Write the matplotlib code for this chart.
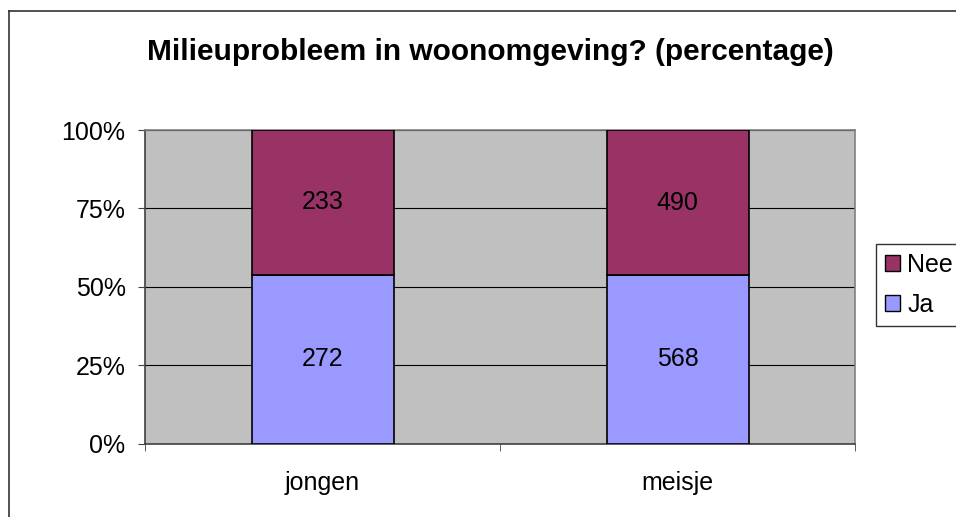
import matplotlib
matplotlib.use("Agg")
import matplotlib.pyplot as plt
from matplotlib.lines import Line2D
from matplotlib.patches import Patch
import numpy as np

plt.rcParams['font.family'] = ['Liberation Sans', 'DejaVu Sans']

categories = ["jongen", "meisje"]
ja_counts = [272, 568]
nee_counts = [233, 490]
series_names = ["Ja", "Nee"]
title = "Milieuprobleem in woonomgeving? (percentage)"
ytick_labels = ["0%", "25%", "50%", "75%", "100%"]

ja = np.array(ja_counts, dtype=float)
nee = np.array(nee_counts, dtype=float)
tot = ja + nee
ja_p = ja / tot * 100
nee_p = nee / tot * 100

W, H = 956, 517
FS = 18
fig = plt.figure(figsize=(W / 100, H / 100), dpi=100)
ax = fig.add_axes([145 / W, 1 - 443.5 / H, 710 / W, (443.5 - 130) / H])
ax.set_facecolor('#C0C0C0')

x = np.arange(len(categories))
bw = 0.4
ax.bar(x, ja_p, width=bw, color='#9999FF', edgecolor='black', linewidth=1.2, zorder=3)
ax.bar(x, nee_p, bottom=ja_p, width=bw, color='#993366', edgecolor='black', linewidth=1.2, zorder=3)

for i in range(len(categories)):
    ax.text(x[i], ja_p[i] / 2, str(ja_counts[i]), ha='center', va='center', fontsize=FS, zorder=4)
    ax.text(x[i], ja_p[i] + nee_p[i] / 2, str(nee_counts[i]), ha='center', va='center', fontsize=FS, zorder=4)

ax.set_xlim(-0.5, 1.5)
ax.set_ylim(0, 100)
ax.set_yticks([0, 25, 50, 75, 100])
ax.set_yticklabels(ytick_labels, fontsize=FS)
ax.yaxis.grid(True, color='black', linewidth=0.8, zorder=1)
ax.set_axisbelow(True)

ax.set_xticks(x)
ax.set_xticklabels(categories, fontsize=FS)
ax.set_xticks([-0.5, 0.5, 1.5], minor=True)
ax.tick_params(axis='x', which='major', length=0, pad=20)
ax.tick_params(axis='x', which='minor', length=5, direction='out', color='#404040')
ax.tick_params(axis='y', length=5, direction='out', pad=9, color='#404040')

for s in ['left', 'bottom']:
    ax.spines[s].set_color('#404040')
    ax.spines[s].set_linewidth(1.2)
for s in ['top', 'right']:
    ax.spines[s].set_color('#808080')
    ax.spines[s].set_linewidth(1.2)

fig.text(490 / W, 1 - 52 / H, title, ha='center', va='center', fontsize=21.5, fontweight='bold')

# Chart area frame
fig.add_artist(Line2D([8.5 / W, 8.5 / W], [0, 1 - 11 / H], transform=fig.transFigure, color='#333333', lw=1.2))
fig.add_artist(Line2D([8.5 / W, 1], [1 - 11 / H, 1 - 11 / H], transform=fig.transFigure, color='#333333', lw=1.2))

handles = [Patch(facecolor='#993366', edgecolor='black'), Patch(facecolor='#9999FF', edgecolor='black')]
leg = fig.legend(handles, ["Nee", "Ja"], loc='upper left', bbox_to_anchor=(876 / W, 1 - 244 / H),
                 fontsize=FS, frameon=True, fancybox=False, handlelength=0.6, handleheight=0.6,
                 handletextpad=0.3, borderpad=0.35, labelspacing=0.65, borderaxespad=0)
leg.get_frame().set_edgecolor('black')
leg.get_frame().set_linewidth(1.0)

fig.savefig("out.png", dpi=100)
